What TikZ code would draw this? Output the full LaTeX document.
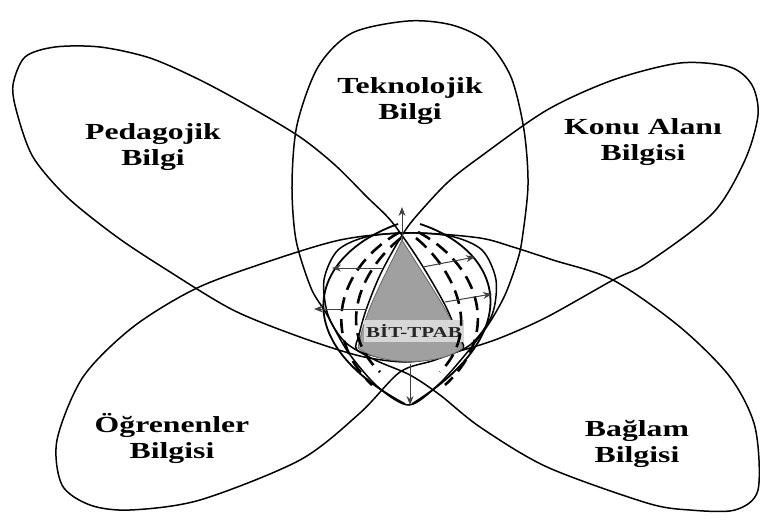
\documentclass[tikz,border=0pt]{standalone}
\usepackage{fontspec}
\usepackage{tikz}
\usetikzlibrary{arrows.meta}
\newfontfamily\lblfont[FakeStretch=1.38]{Liberation Serif}
\definecolor{tpabgray}{RGB}{160,160,160}
\definecolor{tpablight}{RGB}{215,215,215}

\begin{document}
\begin{tikzpicture}[x=0.5pt,y=-0.5pt,
  petal/.style={draw=black,line width=0.75pt},
  fieldline/.style={line width=1.3pt,dash pattern=on 7pt off 4pt},
  fieldsolid/.style={line width=0.9pt},
  push/.style={-{Stealth[length=4.5pt,width=3.5pt]},line width=0.5pt,draw=black!75},
  lbl/.style={font=\lblfont\bfseries\fontsize{11.5}{13}\selectfont,align=center}]

\useasboundingbox (0,0) rectangle (760,520);

% Petals
\draw[petal] plot[smooth cycle] coordinates {(408,21) (452,25) (487,42) (511,77) (524,130) (528,185) (522,240) (517,262) (505,295) (488,325) (465,355) (438,385) (409,405) (378,387) (348,352) (326,313) (311,288) (296,240) (292,185) (297,125) (318,67) (352,33)};
\draw[petal] plot[smooth cycle] coordinates {(463,348) (440,357) (405,362) (360,356) (300,337) (233,310) (167,270) (117,237) (67,197) (33,157) (17,113) (13,85) (25,57) (55,47) (100,47) (150,58) (200,80) (250,107) (300,137) (335,165) (367,197) (392,222) (420,262) (445,305) (458,335)};
\draw[petal] plot[smooth cycle] coordinates {(357,350) (385,358) (420,360) (463,350) (500,338) (547,317) (613,280) (647,263) (713,213) (745,160) (758,115) (752,85) (730,67) (680,63) (613,80) (547,110) (480,157) (447,183) (413,220) (398,242) (380,275) (366,310) (359,335)};
\draw[petal] plot[smooth cycle] coordinates {(400,233) (450,236) (482,250) (496,280) (492,315) (470,345) (435,360) (400,372) (360,413) (300,460) (200,500) (130,510) (90,505) (62,485) (57,440) (83,377) (133,327) (197,288) (273,260) (340,240)};
\draw[petal] plot[smooth cycle] coordinates {(420,233) (370,236) (338,250) (324,280) (328,315) (345,342) (375,360) (410,375) (440,395) (480,427) (547,467) (647,503) (690,510) (735,510) (758,490) (755,427) (730,377) (680,327) (613,280) (553,260) (513,247) (480,238)};

% Core
\coordinate (apex) at (402,240);
\coordinate (base) at (410,364);
\fill[tpabgray,draw=black!60,line width=0.4pt] (apex) .. controls (428,282) and (455,320) .. (463,348)
  .. controls (440,366) and (380,366) .. (358,348) .. controls (365,310) and (382,282) .. (apex);
\node[fill=tpablight,inner xsep=1pt,inner ysep=2.2pt,text=black!85,
  font=\lblfont\bfseries\fontsize{7.6}{8}\selectfont] (tpab) at (414,331) {BİT-TPAB};

% Field lines
\draw[fieldsolid] (398,224) .. controls (310,255) and (285,340) .. (405,404);
\draw[fieldline] (400,232) .. controls (345,262) and (315,330) .. (372,385);
\draw[fieldline] (401,238) .. controls (360,270) and (335,330) .. (380,372);
\draw[fieldsolid] (420,224) .. controls (500,250) and (530,330) .. (412,404);
\draw[fieldline] (418,232) .. controls (475,262) and (505,330) .. (445,385);
\draw[fieldline] (416,238) .. controls (455,270) and (482,330) .. (440,372);

% Arrows
\coordinate (up) at (402,207);
\coordinate (down) at (410,405);
\coordinate (l1s) at (383,268); \coordinate (l1e) at (332,268);
\coordinate (l2s) at (367,309); \coordinate (l2e) at (314,309);
\coordinate (r1s) at (423,267); \coordinate (r1e) at (475,257);
\coordinate (r2s) at (445,302); \coordinate (r2e) at (492,294);
\draw[push] (apex) -- (up);
\draw[push] (base) -- (down);
\draw[push] (l1s) -- (l1e);
\draw[push] (l2s) -- (l2e);
\draw[push] (r1s) -- (r1e);
\draw[push] (r2s) -- (r2e);

% Labels
\node[lbl] (tek) at (410,101) {Teknolojik\\Bilgi};
\node[lbl] (ped) at (153,147) {Pedagojik\\Bilgi};
\node[lbl] (konu) at (643,142) {Konu Alanı\\Bilgisi};
\node[lbl] (ogr) at (172,438) {Öğrenenler\\Bilgisi};
\node[lbl] (bag) at (637,444) {Bağlam\\Bilgisi};

\end{tikzpicture}
\end{document}
